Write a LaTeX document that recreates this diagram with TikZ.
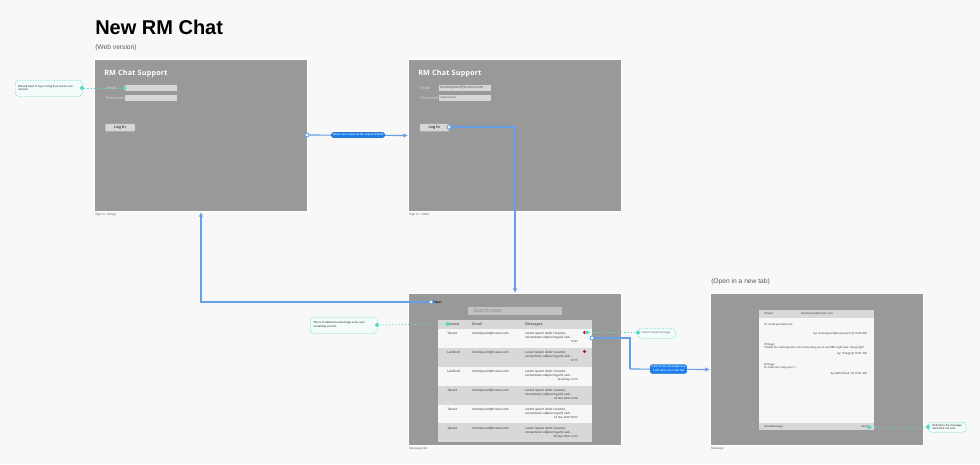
\documentclass[tikz,border=0pt]{standalone}
\usepackage{fontspec}
\setmainfont{Liberation Sans}
\newfontfamily\appfont{Noto Sans}
\newfontfamily\apptitlefont[LetterSpace=3]{Open Sans}
\usetikzlibrary{arrows.meta}
\definecolor{pagebg}{HTML}{F8F8F8}
\definecolor{screengray}{HTML}{999999}
\definecolor{fieldgray}{HTML}{D6D6D6}
\definecolor{rowgray}{HTML}{D8D8D8}
\definecolor{rowwhite}{HTML}{F7F7F7}
\definecolor{flowblue}{HTML}{669FE8}
\definecolor{pillblue}{HTML}{1A80F0}
\definecolor{notecyan}{HTML}{5FD6C4}
\definecolor{notefill}{HTML}{F2FCFB}
\definecolor{unreadred}{HTML}{B01030}
\tikzset{
  every node/.style={inner sep=0pt},
  screen/.style 2 args={draw=white,line width=0.75pt,fill=screengray,anchor=north west,minimum width=#1*0.75pt,minimum height=#2*0.75pt},
  block/.style 2 args={anchor=north west,minimum width=#1*0.75pt,minimum height=#2*0.75pt},
  flow/.style={draw=flowblue,line width=0.85pt,-{Latex[length=3.4pt,width=3.4pt]}},
  flowplain/.style={draw=flowblue,line width=0.85pt},
  noteline/.style={draw=notecyan,line width=0.6pt,dash pattern={on 0.8pt off 1.6pt}},
  handle/.style={circle,draw=flowblue,fill=white,line width=0.7pt,minimum size=3pt},
  notedot/.style={circle,fill=notecyan,minimum size=3pt},
  note/.style 2 args={draw=notecyan,fill=notefill,line width=0.5pt,dash pattern={on 0.8pt off 1.2pt},rounded corners=2.5pt,anchor=north west,minimum width=#1*0.75pt,minimum height=#2*0.75pt},
  notetext/.style={font=\fontsize{2.1}{2.9}\selectfont,align=left,text=black!85},
  pill/.style={fill=pillblue,draw=pillblue!70!black,line width=0.3pt,rounded corners=1.8pt,text=white,font=\fontsize{2.2}{2.9}\selectfont,align=center,inner xsep=1pt,inner ysep=0.9pt},
  apptitle/.style={font=\apptitlefont\bfseries\fontsize{5.4}{7}\selectfont,text=white,anchor=west},
  applabel/.style={font=\appfont\fontsize{2.9}{3.5}\selectfont,text=white!62!screengray,anchor=west},
  fieldtext/.style={font=\appfont\fontsize{2.7}{3.5}\selectfont,text=black!65,anchor=west},
  celltext/.style={font=\appfont\fontsize{2.3}{3.2}\selectfont,text=black!80,anchor=west,align=left},
  chattext/.style={font=\appfont\fontsize{2}{2.6}\selectfont,text=black!80,anchor=west,align=left},
  headtext/.style={font=\appfont\fontsize{2.8}{3.5}\selectfont,text=black!80,anchor=west},
  righttext/.style={font=\appfont\fontsize{2.05}{3}\selectfont,text=black!80,anchor=east},
  caption/.style={font=\fontsize{2.3}{3}\selectfont,text=black!60,anchor=west},
  subtitle/.style={font=\fontsize{5}{6}\selectfont,text=black!65,anchor=west}
}
\begin{document}
\begin{tikzpicture}[x=0.75pt,y=0.75pt,yscale=-1,xscale=1]
\fill [pagebg] (0,0) rectangle (980,464);
\useasboundingbox (0,0) rectangle (980,464);

% Titles
\draw (95,27) node(title) [anchor=west,font=\bfseries\fontsize{15}{17}\selectfont] {New RM Chat};
\draw (95,48) node(webversion) [subtitle] {(Web version)};
\draw (711,282) node(newtab) [subtitle] {(Open in a new tab)};

% Screens
\draw (94,59) node(signempty) [screen={213}{152}] {};
\draw (408,59) node(signfilled) [screen={213}{152}] {};
\draw (408,293) node(msglist) [screen={213}{152}] {};
\draw (710,293) node(msgview) [screen={213}{152}] {};
\draw (95,214.5) node(capempty) [caption] {Sign In - Empty};
\draw (409,214.5) node(capfilled) [caption] {Sign In - Filled};
\draw (409,448.5) node(caplist) [caption] {Message List};
\draw (711,448.5) node(capview) [caption] {Message};

% Sign in, empty
\draw (104,73.5) node(titleempty) [apptitle] {RM Chat Support};
\draw (106,88) node(emailempty) [applabel] {Email};
\draw (106,98) node(passempty) [applabel] {Password};
\draw (124.5,84.5) node(fieldmailempty) [block={52.5}{6.5},fill=fieldgray] {};
\draw (124.5,94.5) node(fieldpassempty) [block={52.5}{6.5},fill=fieldgray] {};
\draw (105,123.5) node(loginempty) [block={29.5}{7.5},fill=fieldgray,rounded corners=0.6pt,font=\appfont\fontsize{2.9}{3.5}\selectfont] {Log In};

% Sign in, filled
\draw (418,73.5) node(titlefilled) [apptitle] {RM Chat Support};
\draw (420,88) node(emailfilled) [applabel] {Email};
\draw (420,98) node(passfilled) [applabel] {Password};
\draw (438.5,84.5) node(fieldmailfilled) [block={52.5}{6.5},fill=fieldgray] {};
\draw (438.5,94.5) node(fieldpassfilled) [block={52.5}{6.5},fill=fieldgray] {};
\draw (440,88) node(mailtext) [fieldtext] {loremipsum@trusoo.com};
\draw (440,98) node(passtext) [fieldtext] {********};
\draw (419.5,123.5) node(loginfilled) [block={29}{7.5},fill=fieldgray,rounded corners=0.6pt,font=\appfont\fontsize{2.9}{3.5}\selectfont] {Log In};

% Message list
\draw (468,307) node(searchbox) [block={94}{8},fill=fieldgray!90!black] {};
\draw (473,311) node(searchtext) [fieldtext,text=black!45,font=\appfont\fontsize{3.9}{5}\selectfont] {Search user};
\draw (438,320) node(headrow) [block={154}{8.5},fill=rowgray] {};
\draw (438,328.5) node(rowone) [block={154}{19},fill=rowwhite] {};
\draw (438,347.5) node(rowtwo) [block={154}{19},fill=rowgray] {};
\draw (438,366.5) node(rowthree) [block={154}{19},fill=rowwhite] {};
\draw (438,385.5) node(rowfour) [block={154}{19},fill=rowgray] {};
\draw (438,404.5) node(rowfive) [block={154}{18.5},fill=rowwhite] {};
\draw (438,423) node(rowsix) [block={154}{18.5},fill=rowgray] {};
\draw (447,324.5) node(headsource) [headtext] {Source};
\draw (472,324.5) node(heademail) [headtext] {Email};
\draw (525,324.5) node(headmsg) [headtext] {Messages};

% Rows
\draw (447,333.5) node(srcone) [celltext] {Tenant};
\draw (472,333.5) node(mailone) [celltext] {loremipsum@trusoo.com};
\draw (525,335.5) node(msgone) [celltext] {Lorem ipsum dolor sit amet,\\consectetur adipiscing elit, sed...};
\draw (578,342) node(dateone) [righttext] {10:37};
\draw (447,352.5) node(srctwo) [celltext] {Landlord};
\draw (472,352.5) node(mailtwo) [celltext] {loremipsum@trusoo.com};
\draw (525,354.5) node(msgtwo) [celltext] {Lorem ipsum dolor sit amet,\\consectetur adipiscing elit, sed...};
\draw (578,361) node(datetwo) [righttext] {07:15};
\draw (447,371.5) node(srcthree) [celltext] {Landlord};
\draw (472,371.5) node(mailthree) [celltext] {loremipsum@trusoo.com};
\draw (525,373.5) node(msgthree) [celltext] {Lorem ipsum dolor sit amet,\\consectetur adipiscing elit, sed...};
\draw (578,380) node(datethree) [righttext] {Yesterday 10:15};
\draw (447,390.5) node(srcfour) [celltext] {Tenant};
\draw (472,390.5) node(mailfour) [celltext] {loremipsum@trusoo.com};
\draw (525,392.5) node(msgfour) [celltext] {Lorem ipsum dolor sit amet,\\consectetur adipiscing elit, sed...};
\draw (578,399) node(datefour) [righttext] {24 Nov 2018 16:28};
\draw (447,409.5) node(srcfive) [celltext] {Tenant};
\draw (472,409.5) node(mailfive) [celltext] {loremipsum@trusoo.com};
\draw (525,411.5) node(msgfive) [celltext] {Lorem ipsum dolor sit amet,\\consectetur adipiscing elit, sed...};
\draw (578,418) node(datefive) [righttext] {24 Nov 2018 09:53};
\draw (447,428.5) node(srcsix) [celltext] {Tenant};
\draw (472,428.5) node(mailsix) [celltext] {loremipsum@trusoo.com};
\draw (525,430.5) node(msgsix) [celltext] {Lorem ipsum dolor sit amet,\\consectetur adipiscing elit, sed...};
\draw (578,437) node(datesix) [righttext] {28 Sept 2018 12:24};
\draw (584.5,332.5) node(unreadone) [circle,fill=unreadred,minimum size=2.4pt] {};
\draw (584.5,351.5) node(unreadtwo) [circle,fill=unreadred,minimum size=2.4pt] {};
\draw (433,302.5) node(inputlabel) [anchor=west,font=\fontsize{2.8}{3}\selectfont] {Input};

% Message view
\draw (759,310) node(chatbody) [block={115}{120},fill=rowwhite] {};
\draw (759,310) node(chathead) [block={115}{8},fill=rowgray] {};
\draw (759,422.5) node(chatfoot) [block={115}{7.5},fill=rowgray] {};
\draw (764,314) node(chatsource) [chattext] {Tenant};
\draw (817,314) node(chatmail) [chattext,anchor=center] {loremipsum@trusoo.com};
\draw (764,324.5) node(chatone) [chattext] {Hi, could you help me?};
\draw (867,333.5) node(byone) [righttext] {by: loremipsum@trusoo.com @ 10:30 AM};
\draw (764,346.5) node(chattwo) [chattext] {[Trilogy]\\Thanks for reaching out! I am connecting you to our RMs right now. Hang tight!};
\draw (867,353.5) node(bytwo) [righttext] {by: Trilogy @ 10:31 AM};
\draw (764,366.5) node(chatthree) [chattext] {[Trilogy]\\Hi, how can I help you? :)};
\draw (867,374) node(bythree) [righttext] {by: RM's Email1 @ 10:31 AM};
\draw (764,426.5) node(sendmsg) [chattext] {Send Message...};
\draw (868,426.5) node(sendbtn) [chattext,anchor=east] {Send};

% Notes
\draw (15,80) node(notelogin) [note={67}{16}] {};
\draw (18,88) node(notelogintext) [notetext,anchor=west] {RM will have to log in using their trusoo.com\\account};
\draw (310,317) node(notesource) [note={67}{16}] {};
\draw (313,325) node(notesourcetext) [notetext,anchor=west] {This is to determine which app is the user\\contacting us from.};
\draw (638,328) node(noteunread) [note={37}{10}] {};
\draw (641,333) node(noteunreadtext) [notetext,anchor=west,text=black!60] {Latest unread message};
\draw (928,422) node(notesend) [note={38}{10}] {};
\draw (932,427) node(notesendtext) [notetext,anchor=west] {Refreshes the message\\each time it is sent};

% Note lines
\draw (82,88) node(dotloginout) [notedot] {};
\draw (124.5,88) node(dotloginin) [notedot] {};
\draw [noteline] (dotloginout) -- (dotloginin);
\draw (377,325) node(dotsourceout) [notedot] {};
\draw (447.5,324) node(dotsourcein) [notedot] {};
\draw [noteline] (dotsourceout) -- (dotsourcein);
\draw (587,332.5) node(dotunreadout) [notedot] {};
\draw (638,332.5) node(dotunreadin) [notedot] {};
\draw [noteline] (dotunreadout) -- (dotunreadin);
\draw (869,427) node(dotsendout) [notedot] {};
\draw (928,427) node(dotsendin) [notedot] {};
\draw [noteline] (dotsendout) -- (dotsendin);

% Flow lines
\draw (307,135) node(handlefields) [handle] {};
\draw (449,127) node(handlelogin) [handle] {};
\draw (431,302) node(handleinput) [handle] {};
\draw (592,338) node(handlemsg) [handle] {};
\coordinate (droplogin) at (515,293);
\coordinate (bendmsg) at (630,369);
\draw [flow] (handlefields) -- (signfilled.west);
\draw [flow] (handlelogin) -| (droplogin);
\draw [flow] (handleinput) -| (signempty.south);
\draw [flowplain] (handlemsg) -| (bendmsg);
\draw [flow] (bendmsg) -- (msgview.west);
\draw (358,135) node(pillfields) [pill] {When user inputs all the required fields};
\draw (668.5,369) node(pillmsg) [pill] {Click on the message and\\it will open up a new tab};

\end{tikzpicture}
\end{document}
